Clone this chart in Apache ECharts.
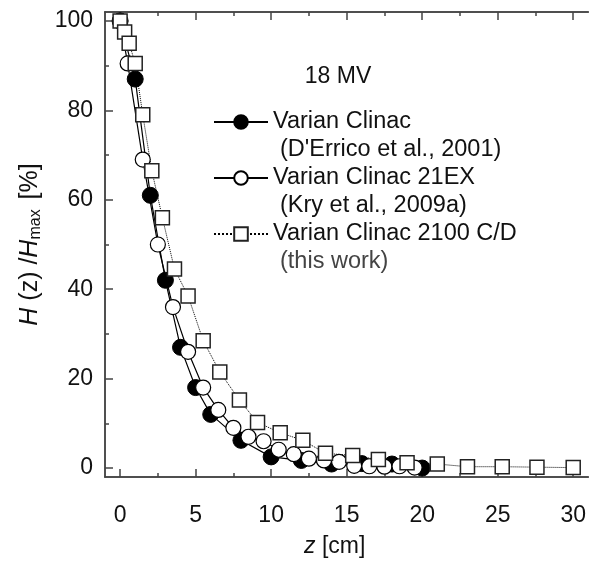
<!DOCTYPE html>
<html>
<head>
<meta charset="utf-8">
<script src="https://cdn.jsdelivr.net/npm/echarts@6/dist/echarts.min.js"></script>
<style>
  html, body { margin: 0; padding: 0; background: #fff; }
  #chart { width: 589px; height: 563px; }
</style>
</head>
<body>
<div id="chart"></div>
<script>
// depth z [cm] and H(z)/Hmax [%]
const derricoZ = [0, 1, 2, 3, 4, 5, 6, 8, 10, 12, 14, 16, 18, 20];
const derricoH = [100, 87, 61, 42, 27, 18, 12, 6.2, 2.5, 1.7, 0.9, 1.0, 0.9, 0];

const kryZ = [0, 0.5, 1.5, 2.5, 3.5, 4.5, 5.5, 6.5, 7.5, 8.5, 9.5, 10.5, 11.5, 12.5, 13.5, 14.5, 15.5, 16.5, 17.5, 18.5, 19.5];
const kryH = [100, 90.5, 69, 50, 36, 26, 18, 13, 9, 7, 6, 4.1, 3.1, 2.1, 1.7, 1.4, 0.5, 0.4, 0.3, 0.4, 0.1];

const thisZ = [0, 0.3, 0.6, 1.0, 1.5, 2.1, 2.8, 3.6, 4.5, 5.5, 6.6, 7.9, 9.1, 10.6, 12.1, 13.6, 15.4, 17.1, 19.0, 21.0, 23.0, 25.3, 27.6, 30.0];
const thisH = [100, 97.5, 95, 90.5, 79, 66.5, 56, 44.5, 38.5, 28.5, 21.5, 15.2, 10.2, 7.9, 6.2, 3.3, 2.8, 1.9, 1.2, 0.9, 0.3, 0.3, 0.2, 0.1];

const xMajor = [0, 5, 10, 15, 20, 25, 30];
const xMinor = [2.5, 7.5, 12.5, 17.5, 22.5, 27.5];
const yMajor = [0, 20, 40, 60, 80, 100];
const yMinor = [10, 30, 50, 70, 90];

const seriesNames = ["Varian Clinac", "Varian Clinac 21EX", "Varian Clinac 2100 C/D"];
const subLines = ["(D'Errico et al., 2001)", "(Kry et al., 2009a)", "(this work)"];

function pairs(xs, ys) {
  return xs.map((x, i) => [x, ys[i]]);
}

const font = "Liberation Sans, Arial, sans-serif";
const axisColor = "#444";
const fs = 23;

function xAx(pos, ticks, len, labels) {
  return {
    type: "value",
    position: pos,
    min: -1,
    max: 31,
    axisLine: { show: true, onZero: false, lineStyle: { color: axisColor, width: 1.5 } },
    axisTick: { show: true, inside: true, length: len, customValues: ticks, lineStyle: { color: axisColor, width: 1.5 } },
    axisLabel: labels
      ? { show: true, customValues: ticks, margin: 27, fontSize: fs, color: "#111", fontFamily: font }
      : { show: false },
    splitLine: { show: false }
  };
}

function yAx(pos, ticks, len, labels) {
  return {
    type: "value",
    position: pos,
    min: -2,
    max: 102,
    axisLine: { show: true, onZero: false, lineStyle: { color: axisColor, width: 1.5 } },
    axisTick: { show: true, inside: true, length: len, customValues: ticks, lineStyle: { color: axisColor, width: 1.5 } },
    axisLabel: labels
      ? { show: true, customValues: ticks, margin: 12, fontSize: fs, color: "#111", fontFamily: font }
      : { show: false },
    splitLine: { show: false }
  };
}

let myChart = echarts.init(document.getElementById("chart")),
  option;

let xMain = xAx("bottom", xMajor, 8, true);
xMain.name = "{i|z} [cm]";
xMain.nameLocation = "middle";
xMain.nameGap = 58;
xMain.nameTextStyle = {
  fontSize: fs, color: "#111", fontFamily: font, padding: [0, 24, 0, 0],
  rich: { i: { fontStyle: "italic", fontSize: fs, fontFamily: font, color: "#111" } }
};

let yMain = yAx("left", yMajor, 8, true);
yMain.name = "{i|H} (z) /{i|H}{s|max} [%]";
yMain.nameLocation = "middle";
yMain.nameRotate = 90;
yMain.nameGap = 52;
yMain.nameTextStyle = {
  fontSize: 25, color: "#111", fontFamily: font,
  rich: {
    i: { fontStyle: "italic", fontSize: 25, fontFamily: font, color: "#111" },
    s: { fontSize: 16, fontFamily: font, color: "#111", padding: [12, 3, 0, 0] }
  }
};

option = {
  animation: false,
  backgroundColor: "#fff",
  grid: { left: 105, right: 0, top: 12, bottom: 76 },
  title: {
    text: "18 MV",
    left: 333,
    top: 60,
    textAlign: "center",
    textStyle: { fontSize: fs, fontWeight: "normal", color: "#111", fontFamily: font }
  },
  legend: {
    orient: "vertical",
    left: 213,
    top: 110,
    padding: 0,
    itemWidth: 54,
    itemHeight: 17,
    itemGap: 32,
    data: seriesNames,
    textStyle: { fontSize: 23.5, color: "#111", fontFamily: font }
  },
  graphic: subLines.map((t, i) => ({
    type: "text",
    left: 280,
    top: 138 + i * 56,
    style: { text: t, fontSize: 23.5, fill: i === 2 ? "#444" : "#111", fontFamily: font }
  })),
  xAxis: [
    xMain,
    xAx("bottom", xMinor, 4, false),
    xAx("top", xMajor, 8, false),
    xAx("top", xMinor, 4, false)
  ],
  yAxis: [
    yMain,
    yAx("left", yMinor, 4, false)
  ],
  series: [
    {
      name: seriesNames[0],
      type: "line",
      data: pairs(derricoZ, derricoH),
      symbol: "circle",
      symbolSize: 16,
      itemStyle: { color: "#000", borderColor: "#000", borderWidth: 1 },
      lineStyle: { color: "#000", width: 1.2 }
    },
    {
      name: seriesNames[1],
      type: "line",
      data: pairs(kryZ, kryH),
      symbol: "circle",
      symbolSize: 15,
      itemStyle: { color: "#fff", borderColor: "#000", borderWidth: 1.2 },
      lineStyle: { color: "#000", width: 1.2 }
    },
    {
      name: seriesNames[2],
      type: "line",
      data: pairs(thisZ, thisH),
      symbol: "rect",
      symbolSize: 14,
      itemStyle: { color: "#fff", borderColor: "#222", borderWidth: 1.5 },
      lineStyle: { color: "#000", width: 1, type: "dotted" }
    }
  ]
};

if (option && typeof option === "object") myChart.setOption(option);
window.addEventListener("resize", function () {
  myChart.resize();
});
</script>
</body>
</html>
